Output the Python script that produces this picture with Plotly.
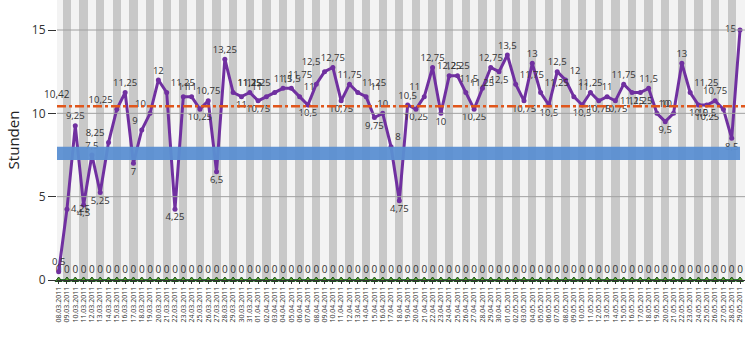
import plotly.graph_objects as go
import pandas as pd

dates = [d.strftime("%d.%m.%Y") for d in pd.date_range("2011-03-08", "2011-05-29")]
hours = [0.5, 4.25, 9.25, 4.5, 7.5, 5.25, 8.25, 10.25, 11.25, 7,
         9, 10, 12, 11.25, 4.25, 11, 11, 10.25, 10.75, 6.5,
         13.25, 11.25, 11, 11.25, 10.75, 11, 11.25, 11.5, 11.5, 11,
         10.5, 11.75, 12.5, 12.75, 10.75, 11.75, 11.25, 11, 9.75, 10,
         8, 4.75, 10.5, 10.25, 11, 12.75, 10, 12.25, 12.25, 11.25,
         10.25, 11.5, 12.75, 12.5, 13.5, 11.75, 10.75, 13, 11.25, 10.5,
         12.5, 12, 11, 10.5, 11.25, 10.75, 11, 10.75, 11.75, 11.25,
         11.25, 11.5, 10, 9.5, 10, 13, 11.25, 10.5, 10.5, 10.75,
         10.25, 8.5, 15]
zeros = [0] * len(dates)
band_low, band_high = 7.2, 8.0
stripe_height = 16.8

n = len(dates)
xs = list(range(n))
mean_val = sum(hours) / n

def fmt(v):
    s = ("%.2f" % v).rstrip("0").rstrip(".")
    return s.replace(".", ",")

pos = []
for i, v in enumerate(hours):
    prev = hours[i - 1] if i > 0 else None
    nxt = hours[i + 1] if i < n - 1 else None
    if prev is None:
        pos.append("top center")
    elif nxt is None:
        pos.append("middle left")
    elif v >= prev and v >= nxt:
        pos.append("top center")
    elif v <= prev and v <= nxt:
        pos.append("bottom center")
    elif prev < v:
        pos.append("middle right" if i < 3 else "top left")
    else:
        pos.append("bottom left" if i > n - 4 else "top right")

fig = go.Figure()
# alternating grey stripes
fig.add_trace(go.Bar(x=[i for i in xs if i % 2 == 1],
                     y=[stripe_height for i in xs if i % 2 == 1],
                     width=1.0, marker=dict(color="#c8c8c8", line=dict(width=0)),
                     hoverinfo="skip", showlegend=False))
# zero series
fig.add_trace(go.Scatter(x=xs, y=zeros, mode="lines+markers+text",
                         line=dict(color="#2e7d32", width=2),
                         marker=dict(symbol="triangle-up", size=6, color="#5aa02c",
                                     line=dict(color="#1b4d1b", width=1)),
                         text=[fmt(v) for v in zeros], textposition="top center",
                         textfont=dict(size=10, color="#333333"),
                         cliponaxis=False, showlegend=False))
# main series
fig.add_trace(go.Scatter(x=xs, y=hours, mode="lines+markers+text",
                         line=dict(color="#7030a0", width=3),
                         marker=dict(size=5, color="#7030a0"),
                         text=[fmt(v) for v in hours], textposition=pos,
                         textfont=dict(size=9.5, color="#333333"),
                         cliponaxis=False, showlegend=False))

shapes = []
shapes.append(dict(type="rect", xref="x", yref="y", x0=-0.2, x1=82.0,
                   y0=band_low, y1=band_high, fillcolor="#5b8fd2",
                   line=dict(width=0), layer="above", opacity=0.95))
for gv in [5, 10, 15]:
    shapes.append(dict(type="line", xref="paper", yref="y", x0=0, x1=1,
                       y0=gv, y1=gv, line=dict(color="#a0a0a0", width=1),
                       layer="above"))
shapes.append(dict(type="line", xref="paper", yref="y", x0=0, x1=1,
                   y0=mean_val, y1=mean_val,
                   line=dict(color="#e0561b", width=2.5, dash="dashdot"),
                   layer="above"))
fig.update_layout(shapes=shapes)

fig.add_annotation(x=0, y=mean_val, text=fmt(round(mean_val, 2)), showarrow=False,
                   yshift=12, xshift=-2, font=dict(size=10, color="#333333"))

fig.update_layout(
    width=750, height=353,
    margin=dict(l=57, r=5, t=0, b=73),
    paper_bgcolor="white", plot_bgcolor="#f3f3f3",
    font=dict(family="Open Sans, sans-serif", color="#333333"),
    bargap=0,
    xaxis=dict(range=[-0.2, 82.6], tickmode="array", tickvals=xs, ticktext=dates,
               tickangle=-90, tickfont=dict(size=7, color="#333333"),
               showgrid=False, showline=True, linecolor="#333333", linewidth=1,
               ticks="outside", ticklen=3, tickcolor="#333333", zeroline=False),
    yaxis=dict(range=[0, 16.8], tickvals=[0, 5, 10, 15], ticks="outside",
               ticklen=8, tickcolor="#333333", tickfont=dict(size=12, color="#333333"),
               showgrid=False, zeroline=False, showline=False,
               title=dict(text="Stunden", font=dict(size=15, color="#222222"), standoff=8)),
)

fig.write_html("out.html")
